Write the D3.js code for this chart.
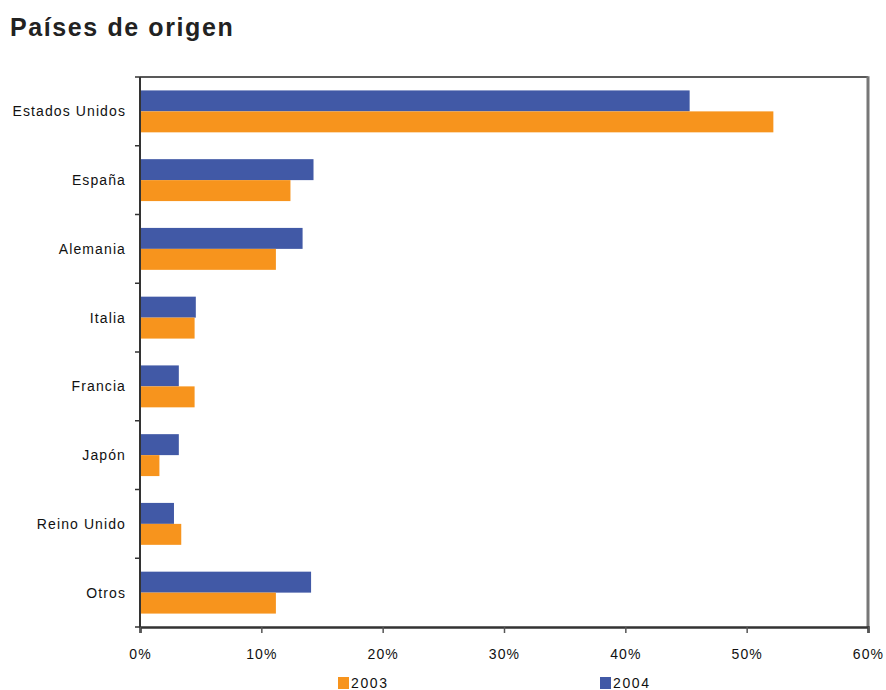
<!DOCTYPE html>
<html>
<head>
<meta charset="utf-8">
<script src="https://cdn.jsdelivr.net/npm/d3@7"></script>
<style>
  body { margin: 0; background: #fff; }
  text { font-family: "Liberation Sans", Arial, sans-serif; }
</style>
</head>
<body>
<svg id="chart" width="886" height="690"></svg>
<script>
const categories = ["Estados Unidos", "España", "Alemania", "Italia", "Francia", "Japón", "Reino Unido", "Otros"];
const values2004 = [45.3, 14.3, 13.4, 4.6, 3.2, 3.2, 2.8, 14.1];
const values2003 = [52.2, 12.4, 11.2, 4.5, 4.5, 1.6, 3.4, 11.2];
const xTicks = [0, 10, 20, 30, 40, 50, 60];
const seriesNames = ["2003", "2004"];
const colors = { "2003": "#F7941D", "2004": "#4159A6" };

const svg = d3.select("#chart");
const pLeft = 140, pRight = 868, pTop = 77, pBottom = 627;

svg.append("text")
  .attr("x", 10).attr("y", 36)
  .attr("font-size", 25).attr("font-weight", "bold")
  .attr("letter-spacing", 1.6)
  .attr("fill", "#222")
  .text("Países de origen");

const x = d3.scaleLinear().domain([0, 60]).range([pLeft, pRight]);
const y = d3.scaleBand().domain(categories).range([pTop, pBottom]).paddingInner(0).paddingOuter(0);
const inner = d3.scaleBand().domain(["2004", "2003"]).range([0, y.bandwidth()]).paddingInner(0).paddingOuter(0.64);

// bars
const g = svg.append("g");
categories.forEach((c, i) => {
  const rows = [{ s: "2004", v: values2004[i] }, { s: "2003", v: values2003[i] }];
  g.selectAll(null).data(rows).enter().append("rect")
    .attr("x", x(0))
    .attr("y", d => y(c) + inner(d.s))
    .attr("width", d => x(d.v) - x(0))
    .attr("height", inner.bandwidth())
    .attr("fill", d => colors[d.s]);
});

// frame: top and right
svg.append("line").attr("x1", pLeft).attr("x2", pRight).attr("y1", pTop).attr("y2", pTop)
  .attr("stroke", "#222").attr("stroke-width", 1.5);
svg.append("line").attr("x1", pRight).attr("x2", pRight).attr("y1", pTop - 0.75).attr("y2", pBottom)
  .attr("stroke", "#777").attr("stroke-width", 3);

// y axis
const yTickPositions = d3.range(categories.length + 1).map(i => pTop + i * y.step());
const yAxis = svg.append("g");
yAxis.append("line").attr("x1", pLeft).attr("x2", pLeft).attr("y1", pTop).attr("y2", pBottom + 1)
  .attr("stroke", "#333").attr("stroke-width", 2);
yAxis.selectAll(".yt").data(yTickPositions).enter().append("line")
  .attr("x1", pLeft - 5).attr("x2", pLeft).attr("y1", d => d).attr("y2", d => d)
  .attr("stroke", "#333").attr("stroke-width", 1.5);
yAxis.selectAll(".yl").data(categories).enter().append("text")
  .attr("x", 126).attr("y", d => y(d) + y.bandwidth() / 2)
  .attr("dy", "0.35em")
  .attr("text-anchor", "end")
  .attr("font-size", 14).attr("letter-spacing", 1.1)
  .attr("fill", "#111")
  .text(d => d);

// x axis
const xAxis = svg.append("g").attr("transform", `translate(0,${pBottom})`)
  .call(d3.axisBottom(x).tickValues(xTicks).tickSize(6).tickFormat(d => d + "%"));
xAxis.select(".domain").attr("stroke", "#333").attr("stroke-width", 2.5);
xAxis.selectAll(".tick line").attr("stroke", "#555").attr("stroke-width", 1.5);
xAxis.selectAll(".tick text")
  .attr("font-family", "Liberation Sans, Arial, sans-serif")
  .attr("font-size", 14).attr("letter-spacing", 1.1)
  .attr("fill", "#111").attr("y", 22);

// legend
const legendPos = [{ s: "2003", x: 338 }, { s: "2004", x: 600 }];
const legend = svg.append("g");
legendPos.forEach(p => {
  legend.append("rect").attr("x", p.x).attr("y", 677).attr("width", 11).attr("height", 12)
    .attr("fill", colors[p.s]);
  legend.append("text").attr("x", p.x + 13).attr("y", 688)
    .attr("font-size", 14).attr("letter-spacing", 1.6).attr("fill", "#111")
    .text(p.s);
});
</script>
</body>
</html>
